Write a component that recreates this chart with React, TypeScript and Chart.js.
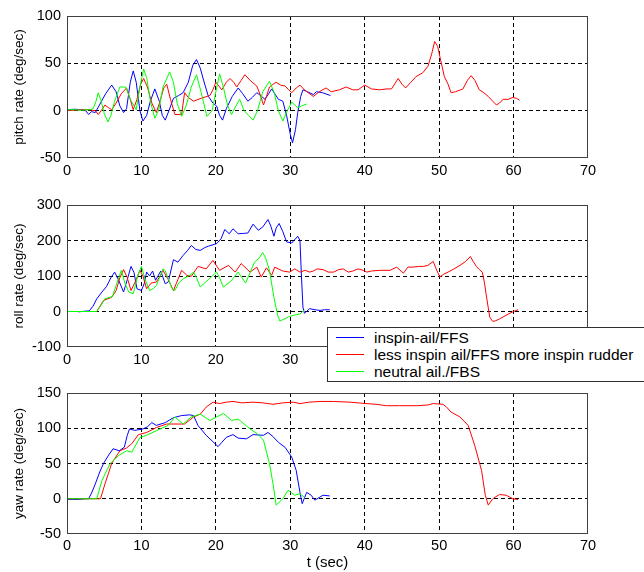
import React, { useEffect, useRef } from "react";
import { Chart, registerables } from "chart.js";
Chart.register(...registerables);

type Pt = [number, number];

const seriesNames = ["inspin-ail/FFS", "less inspin ail/FFS more inspin rudder", "neutral ail./FBS"];
const seriesColors = ["#0000ff", "#ff0000", "#00ff00"];
const xTickMin = 0;
const xTickMax = 70;
const xTickStep = 10;

// ---- pitch rate (deg/sec) ----
const pitchInspin: Pt[] = [
  [0, 1], [1, 1.5], [2, 1], [2.5, 0], [2.9, -4], [3.3, -1], [3.8, -2], [4.5, 8], [5.2, 18], [6, 27], [6.6, 20], [7.1, 5], [7.6, -2], [8, 2], [8.5, 30], [8.9, 42], [9.3, 30], [9.8, 0], [10.2, -11], [10.7, -5], [11.2, 10], [11.8, 23], [12.4, 10], [12.8, -5], [13.2, -10], [13.7, 0], [14.3, 13], [15, 16], [15.6, 19], [16.3, 30], [16.9, 48], [17.4, 54], [17.9, 45], [18.5, 28], [19, 15], [19.6, 8], [20.1, 5], [20.5, -5], [20.9, -10], [21.4, 2], [22.2, 15], [23, 24], [23.6, 18], [24.3, 10], [24.9, 14], [25.5, 19], [26, 16], [26.6, 12], [27.1, 18], [27.5, 23], [28, 17], [28.4, 12], [29, 10], [29.5, -5], [30, -25], [30.3, -34], [30.7, -20], [31, -2], [31.4, 15], [31.7, 22], [32.3, 20], [33.1, 17], [33.5, 20], [34.3, 19], [35.4, 16],
];
const pitchLess: Pt[] = [
  [0, 0], [1, 0.5], [2, 1], [3, 1], [3.8, 0], [4.2, -4], [4.6, 0], [5.1, 6], [5.6, 3], [6, 1], [6.6, 8], [7.3, 18], [8, 24], [8.5, 12], [8.9, 1], [9.4, 12], [9.9, 28], [10.3, 34], [10.8, 25], [11.4, 8], [12, -2], [12.5, 10], [13, 24], [13.4, 28], [13.9, 12], [14.5, -4], [15.4, -4], [15.8, 19], [16.3, 14], [17, 10], [18, 13], [19.2, 16], [19.6, 22], [20, 30], [20.4, 26], [20.8, 22], [21.4, 30], [21.9, 34], [22.4, 30], [22.8, 25], [23.4, 32], [23.9, 38], [24.6, 32], [25.5, 26], [26, 16], [26.4, 6], [26.8, 15], [27.2, 25], [27.7, 28], [28.1, 30], [28.7, 27], [29.3, 26], [29.8, 22], [30.2, 19], [30.8, 24], [31.3, 27], [31.9, 22], [32.4, 19], [33.1, 15], [33.9, 20], [34.8, 24], [35.5, 20], [36.6, 22], [37.5, 25], [38.4, 22], [39.1, 22], [40, 27], [40.9, 23], [42, 22], [43, 23], [43.6, 23], [44.5, 34], [45, 28], [45.5, 24], [46.2, 30], [46.9, 36], [47.8, 40], [48.5, 47], [49, 60], [49.4, 73], [49.8, 68], [50.1, 57], [50.7, 36], [51.2, 28], [51.6, 19], [52.2, 20], [53.2, 23], [53.8, 32], [54.3, 37], [54.8, 32], [55.4, 22], [56, 19], [56.6, 15], [57.2, 10], [57.7, 6], [58.1, 8], [58.6, 12], [59.3, 12], [59.9, 14], [60.4, 13], [60.8, 11],
];
const pitchNeutral: Pt[] = [
  [0, 1], [1, 1], [2, 0.5], [3, 1], [3.5, 2], [3.9, 10], [4.2, 19], [4.6, 10], [5, -3], [5.5, -12], [5.9, -5], [6.4, 10], [7.1, 25], [7.9, 25], [8.5, 12], [9.3, 1], [9.8, 25], [10.3, 44], [10.7, 35], [11.2, 10], [11.8, -8], [12.3, 0], [12.9, 25], [13.8, 41], [14.3, 30], [14.8, 8], [15.4, -6], [16, 5], [16.7, 25], [17.4, 38], [18, 20], [18.8, -6], [19.5, 0], [20, 20], [20.5, 39], [21, 25], [21.6, 5], [22.1, -4], [22.7, 5], [23.2, 12], [23.8, 0], [24.4, -5], [25, -10], [25.6, 0], [26.3, 20], [27.2, 31], [27.8, 20], [28.4, 0], [29, -11], [29.6, 0], [30.2, 9], [31, 3], [31.5, 5], [32.2, 7],
];

// ---- roll rate (deg/sec) ----
const rollInspin: Pt[] = [
  [1.5, -1], [2.5, 1], [3, 2], [3.5, 15], [4, 36], [4.7, 55], [5.3, 70], [5.9, 95], [6.4, 111], [6.9, 90], [7.6, 55], [8.1, 90], [8.6, 127], [9, 110], [9.4, 64], [10, 59], [10.4, 80], [10.7, 111], [11.1, 100], [11.5, 114], [11.9, 88], [12.6, 114], [13.2, 78], [13.6, 83], [14.3, 146], [14.9, 139], [15.6, 158], [16.2, 172], [16.7, 186], [17.3, 175], [17.9, 172], [18.5, 180], [19, 184], [20.1, 191], [20.7, 205], [21.2, 231], [21.8, 219], [22.3, 233], [23, 219], [23.7, 220], [24.3, 221], [25, 246], [25.7, 229], [26.3, 238], [27, 259], [27.4, 240], [27.8, 212], [28.1, 235], [28.5, 248], [29, 225], [29.5, 196], [30.2, 193], [31, 212], [31.3, 200], [31.5, 100], [31.7, 12], [31.9, -5], [32.6, 8], [33.3, 5], [34, 3], [34.6, 5], [35.3, 5],
];
const rollLess: Pt[] = [
  [0, 0], [3, 0], [4, 0], [4.9, 31], [6, 40], [6.6, 59], [7.1, 95], [7.6, 118], [8.1, 95], [8.6, 59], [9.2, 85], [9.8, 116], [10.2, 100], [10.7, 64], [11.3, 80], [12, 83], [12.5, 100], [12.9, 116], [13.6, 90], [14.3, 59], [14.9, 90], [15.4, 116], [16.1, 102], [16.7, 99], [17.6, 127], [18.7, 120], [19.6, 144], [20.5, 116], [21.7, 130], [22.6, 111], [23.4, 135], [24.6, 111], [25.5, 125], [26.1, 97], [26.8, 123], [27.5, 102], [27.9, 125], [29, 114], [29.9, 111], [30.6, 120], [31.3, 111], [32, 116], [32.6, 111], [33.1, 114], [33.6, 120], [34.4, 118], [35.1, 111], [35.8, 111], [36.5, 118], [37.1, 120], [37.8, 111], [38.4, 114], [39.1, 120], [39.8, 116], [40.3, 111], [40.9, 114], [42, 116], [43.4, 116], [44.3, 125], [45.2, 108], [45.8, 125], [46.5, 125], [47.2, 127], [47.9, 127], [48.5, 130], [49.2, 141], [49.6, 120], [50.1, 97], [50.6, 105], [51.2, 111], [52, 120], [52.8, 130], [53.5, 140], [54.2, 155], [54.6, 140], [55, 127], [55.4, 118], [55.8, 111], [56.1, 80], [56.3, 50], [56.6, 10], [56.8, -16], [57.2, -28], [57.6, -26], [58.1, -21], [58.7, -14], [59.3, -7], [60, 0], [60.6, 5],
];
const rollNeutral: Pt[] = [
  [0, 0], [4, 0], [4.5, 15], [5.1, 36], [6.1, 42], [6.7, 80], [7.3, 116], [7.8, 78], [8.3, 55], [8.9, 50], [9.5, 100], [10, 127], [10.5, 90], [11.1, 59], [11.6, 65], [12, 73], [12.9, 120], [13.2, 115], [13.6, 92], [14.1, 65], [14.5, 59], [15, 80], [15.6, 92], [16.5, 102], [17, 111], [17.4, 95], [17.9, 69], [19, 90], [20.1, 111], [20.5, 95], [21, 69], [22, 85], [23, 111], [23.5, 95], [24, 80], [24.6, 110], [25.2, 139], [25.8, 150], [26.3, 166], [26.7, 150], [27.2, 116], [27.8, 40], [28.3, -10], [28.6, -27], [29.3, -20], [29.9, -14], [30.6, -10], [31.3, -7], [31.9, 5],
];

// ---- yaw rate (deg/sec) ----
const yawInspin: Pt[] = [
  [0, -1], [1.5, -1], [2.5, 0], [2.9, 0], [3.3, 8], [3.8, 21], [4.4, 38], [4.9, 50], [5.6, 62], [6.2, 71], [7, 68], [7.7, 73], [8.1, 90], [8.4, 99], [9.1, 97], [10.2, 99], [10.8, 102], [11.4, 108], [12, 104], [13.2, 108], [14.3, 115], [15.4, 118], [16.5, 119], [17, 118], [17.6, 104], [18.7, 90], [19.5, 82], [20.3, 74], [20.8, 80], [21.4, 87], [22.3, 91], [23, 86], [24.1, 85], [25, 91], [26.4, 90], [27, 94], [27.7, 88], [28.4, 80], [29.3, 73], [30.2, 59], [30.8, 40], [31.3, 9], [31.6, -7], [32.2, 9], [32.8, 5], [33.3, -2], [34.4, 5], [35.3, 4],
];
const yawLess: Pt[] = [
  [0, 0], [4.5, 0], [5.1, 21], [6, 50], [7.1, 68], [8, 72], [8.7, 78], [9.6, 91], [10.7, 94], [12, 101], [13.4, 106], [15.8, 106], [17, 116], [17.9, 120], [18.7, 130], [19.6, 137], [20.5, 135], [21.4, 137], [22.3, 138], [23.5, 136], [25, 137], [26.3, 136], [27.7, 134], [29, 136], [30.4, 137], [31.3, 135], [32.5, 137], [34, 138], [35.8, 138], [38, 137], [40.2, 135], [41.5, 134], [42.9, 132], [44.7, 132], [47, 132], [48.5, 133], [49.2, 135], [50.5, 134], [51, 130], [51.6, 123], [52.8, 116], [53.9, 104], [54.8, 75], [55.7, 40], [56.2, 5], [56.6, -9], [57.2, 0], [58.1, 6], [59, 5], [59.9, 0], [60.6, -1],
];
const yawNeutral: Pt[] = [
  [0, 0], [4, 0], [4.7, 26], [5.8, 50], [6.9, 61], [8, 68], [8.7, 66], [9.8, 87], [10.7, 90], [12.5, 99], [13.6, 104], [14.5, 116], [15.6, 106], [16.7, 116], [17.9, 120], [19.2, 111], [21, 121], [22.1, 111], [23, 113], [24.6, 99], [25.6, 92], [26.4, 83], [27.2, 50], [27.7, 20], [28.1, -9], [29, 0], [29.7, 12], [30.6, 5], [31.3, 7], [31.9, 2],
];

const pitchTicks = { min: -50, max: 100, step: 50 };
const rollTicks = { min: -100, max: 300, step: 100 };
const yawTicks = { min: -50, max: 150, step: 50 };

const FONT = "'Liberation Sans', Arial, Helvetica, sans-serif";

const framePlugin = {
  id: "frame",
  afterDraw(chart: any) {
    const { ctx, chartArea } = chart;
    ctx.save();
    ctx.strokeStyle = "#404040";
    ctx.lineWidth = 1;
    const l = Math.round(chartArea.left) + 0.5;
    const t = Math.round(chartArea.top) + 0.5;
    const r = Math.round(chartArea.right) - 0.5;
    const b = Math.round(chartArea.bottom) - 0.5;
    ctx.strokeRect(l, t, r - l, b - t);
    ctx.restore();
  },
};

function buildConfig(
  series: Pt[][],
  yr: { min: number; max: number; step: number },
  yTitle: string,
  padTop: number,
  xAxisHeight: number,
  tickPad: number,
  xTitle: string | null
): any {
  const gridColor = (c: any) => {
    const n = c.scale.ticks.length;
    return c.index === 0 || c.index === n - 1 ? "rgba(0,0,0,0)" : "#000000";
  };
  return {
    type: "line",
    data: {
      datasets: series.map((s, i) => ({
        label: seriesNames[i],
        data: s.map(([x, y]) => ({ x, y })),
        borderColor: seriesColors[i],
        backgroundColor: seriesColors[i],
        borderWidth: 1,
        pointRadius: 0,
        tension: 0,
        fill: false,
        order: 2 - i,
      })),
    },
    options: {
      responsive: false,
      animation: false,
      events: [],
      layout: { padding: { top: padTop, right: 56, bottom: 0, left: 0 } },
      plugins: { legend: { display: false }, tooltip: { enabled: false } },
      scales: {
        x: {
          type: "linear",
          min: xTickMin,
          max: xTickMax,
          ticks: {
            stepSize: xTickStep,
            color: "#000",
            padding: tickPad,
            maxRotation: 0,
            font: { family: FONT, size: 14.5 },
          },
          grid: { color: gridColor, lineWidth: 1, drawTicks: false },
          border: { display: false, dash: [4, 3] },
          title: xTitle
            ? { display: true, text: xTitle, color: "#000", font: { family: FONT, size: 15 }, padding: { top: 0, bottom: 0 } }
            : { display: false },
          afterFit: (s: any) => {
            s.height = xAxisHeight;
          },
        },
        y: {
          type: "linear",
          min: yr.min,
          max: yr.max,
          ticks: {
            stepSize: yr.step,
            color: "#000",
            padding: 6,
            font: { family: FONT, size: 14.5 },
          },
          grid: { color: gridColor, lineWidth: 1, drawTicks: false },
          border: { display: false, dash: [4, 3] },
          title: {
            display: true,
            text: yTitle,
            color: "#000",
            font: { family: FONT, size: 13.5 },
            padding: { top: 11, bottom: 0 },
          },
          afterFit: (s: any) => {
            s.width = 67;
          },
        },
      },
    },
    plugins: [framePlugin],
  };
}

function Panel(props: { top: number; height: number; config: () => any }) {
  const ref = useRef<HTMLCanvasElement | null>(null);
  useEffect(() => {
    if (!ref.current) return;
    const chart = new Chart(ref.current, props.config());
    return () => chart.destroy();
  }, []);
  return (
    <canvas
      ref={ref}
      width={644}
      height={props.height}
      style={{ position: "absolute", left: 0, top: props.top, width: 644, height: props.height }}
    />
  );
}

export default function App() {
  const legendRow = (i: number) => (
    <div key={i} style={{ position: "absolute", left: 0, top: 1 + i * 17, height: 17, width: 330 }}>
      <div
        style={{
          position: "absolute",
          left: 8,
          top: 8,
          width: 28,
          height: 1,
          background: seriesColors[i],
        }}
      />
      <div
        style={{
          position: "absolute",
          left: 46,
          top: 0,
          lineHeight: "17px",
          fontSize: 15.5,
          fontFamily: FONT,
          color: "#000",
          whiteSpace: "nowrap",
        }}
      >
        {seriesNames[i]}
      </div>
    </div>
  );
  return (
    <div
      style={{
        position: "absolute",
        left: 0,
        top: 0,
        width: 644,
        height: 572,
        overflow: "hidden",
        background: "#fff",
      }}
    >
      <Panel
        top={0}
        height={182}
        config={() => buildConfig([pitchInspin, pitchLess, pitchNeutral], pitchTicks, "pitch rate (deg/sec)", 16, 24, 4, null)}
      />
      <Panel
        top={182}
        height={185}
        config={() => buildConfig([rollInspin, rollLess, rollNeutral], rollTicks, "roll rate (deg/sec)", 23, 20, 4, null)}
      />
      <Panel
        top={367}
        height={205}
        config={() => buildConfig([yawInspin, yawLess, yawNeutral], yawTicks, "yaw rate (deg/sec)", 26, 38, 3, "t (sec)")}
      />
      <div
        style={{
          position: "absolute",
          left: 327,
          top: 327,
          width: 340,
          height: 55,
          border: "1px solid #303030",
          background: "#fff",
          boxSizing: "border-box",
        }}
      >
        {[0, 1, 2].map(legendRow)}
      </div>
    </div>
  );
}
